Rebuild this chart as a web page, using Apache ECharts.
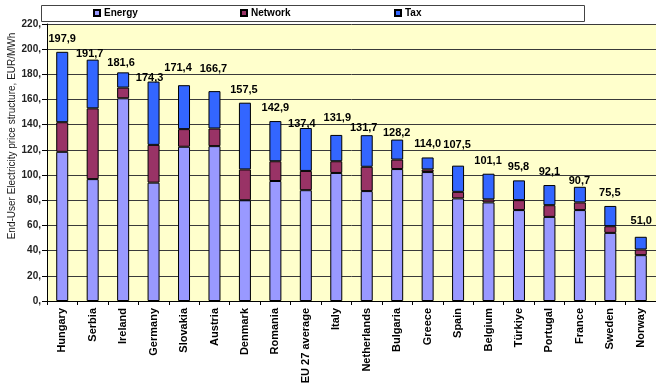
<!DOCTYPE html>
<html>
<head>
<meta charset="utf-8">
<script src="https://cdn.jsdelivr.net/npm/echarts@6/dist/echarts.min.js"></script>
<style>
html,body{margin:0;padding:0;background:#fff;}
#chart{width:656px;height:391px;}
</style>
</head>
<body>
<div id="chart"></div>
<script>
// ---- data ----
const categories = ['Hungary','Serbia','Ireland','Germany','Slovakia','Austria','Denmark','Romania','EU 27 average','Italy','Netherlands','Bulgaria','Greece','Spain','Belgium','Türkiye','Portugal','France','Sweden','Norway'];
const energy  = [118.5, 96.8, 161.0, 94.0, 122.5, 123.0, 80.0, 95.3, 88.0, 101.7, 87.3, 104.8, 102.4, 81.5, 78.3, 72.2, 66.8, 72.2, 54.1, 36.4];
const network = [23.5, 56.2, 8.5, 30.0, 14.0, 14.0, 24.5, 15.7, 15.3, 9.3, 19.3, 7.5, 2.1, 5.2, 2.4, 7.9, 9.3, 6.1, 5.3, 4.5];
const tax     = [55.9, 38.7, 12.1, 50.3, 34.9, 29.7, 53.0, 31.9, 34.1, 20.9, 25.1, 15.9, 9.5, 20.8, 20.4, 15.7, 16.0, 12.4, 16.1, 10.1];
const totalLabels = ['197,9','191,7','181,6','174,3','171,4','166,7','157,5','142,9','137,4','131,9','131,7','128,2','114,0','107,5','101,1','95,8','92,1','90,7','75,5','51,0'];
const yTicks = [0,20,40,60,80,100,120,140,160,180,200,220];

// ---- label placement (style, px) ----
const labelDx = [0,-3,-2,-4,-6,-1,-1,0,-4,1,-3,-0.5,0,-1,-0.5,-0.5,0,-0.5,-0.5,0.5];
const labelLift = [12.9,5.4,9.1,3.3,16.9,22.2,12.7,12.8,4,16.6,6.9,6.3,13.1,20.6,12.6,13.6,13.2,5.7,12.5,15.9];

const FONT = '"Liberation Sans", Arial, sans-serif';
const chart = echarts.init(document.getElementById('chart'));

const taxData = tax.map((v, i) => ({
  value: v,
  label: { offset: [labelDx[i], -(labelLift[i] - 6)] }
}));

const barStyle = (color) => ({ color: color, borderColor: '#000', borderWidth: 1 });

const legendBase = {
  top: 8, padding: 0, itemWidth: 6, itemHeight: 6, icon: 'rect', itemGap: 4,
  textStyle: { fontFamily: FONT, fontSize: 10, fontWeight: 'bold', color: '#000', padding: [0,0,0,-1] },
  z: 10
};

chart.setOption({
  animation: false,
  backgroundColor: '#fff',
  textStyle: { fontFamily: FONT },
  graphic: [
    { type: 'rect', z: 1, shape: { x: 41.5, y: 5.5, width: 543, height: 16 },
      style: { fill: '#fff', stroke: '#444', lineWidth: 1 } },
    { type: 'text', z: 1, x: 12, y: 136, rotation: Math.PI / 2,
      style: { text: 'End-User Electricity price structure, EUR/MWh', textAlign: 'center', textVerticalAlign: 'middle',
               font: '10px ' + FONT, fill: '#1a1a1a' } }
  ],
  legend: [
    Object.assign({}, legendBase, { left: 93, data: ['Energy'] }),
    Object.assign({}, legendBase, { left: 240, data: ['Network'] }),
    Object.assign({}, legendBase, { left: 394, data: ['Tax'] })
  ],
  grid: { left: 47, top: 24, width: 610, height: 277, show: true, backgroundColor: '#FFFFCC', borderWidth: 0 },
  xAxis: {
    type: 'category', data: categories,
    axisLine: { show: true, lineStyle: { color: '#000', width: 1 } },
    axisTick: { show: true, length: 4, interval: 0, lineStyle: { color: '#000' } },
    axisLabel: { interval: 0, rotate: 90, margin: 7, fontFamily: FONT, fontSize: 11, fontWeight: 'bold', color: '#000' },
    splitLine: { show: false }
  },
  yAxis: {
    type: 'value', min: yTicks[0], max: yTicks[yTicks.length - 1], interval: 20,
    axisLine: { show: true, lineStyle: { color: '#000', width: 1 } },
    axisTick: { show: true, length: 5, lineStyle: { color: '#000' } },
    axisLabel: { margin: 6, fontFamily: FONT, fontSize: 10, fontWeight: 'bold', color: '#222',
                 formatter: (v) => v + ',' },
    splitLine: { show: true, lineStyle: { color: '#3a3a3a', width: 1 } }
  },
  series: [
    { name: 'Energy', type: 'bar', stack: 'total', barWidth: 12, data: energy, itemStyle: barStyle('#9999FF') },
    { name: 'Network', type: 'bar', stack: 'total', barWidth: 12, data: network, itemStyle: barStyle('#993366') },
    { name: 'Tax', type: 'bar', stack: 'total', barWidth: 12, data: taxData, itemStyle: barStyle('#3366FF'),
      label: { show: true, position: 'top', distance: 0, lineHeight: 12,
               fontFamily: FONT, fontSize: 11, fontWeight: 'bold', color: '#000',
               formatter: (p) => totalLabels[p.dataIndex] } }
  ]
});
</script>
</body>
</html>
